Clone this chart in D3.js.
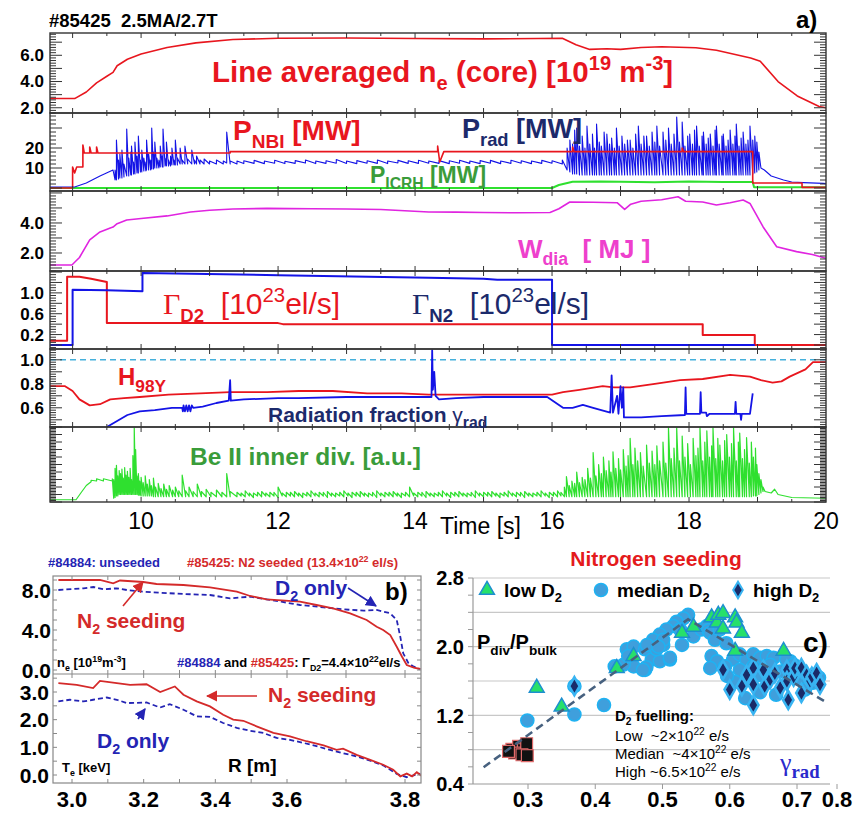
<!DOCTYPE html>
<html>
<head>
<meta charset="utf-8">
<style>
  body { margin: 0; background: #fff; }
  text { white-space: pre; }
</style>
</head>
<body>
<svg id="chart" width="856" height="814"></svg>
<script src="https://cdn.jsdelivr.net/npm/d3@7"></script>
<script>
// ---------- panel a: time traces of shot #85425 ----------
const timeTicks = [10, 12, 14, 16, 18, 20];
const neCore = [[8.67,2.7],[9.03,2.7],[9.2,3.2],[9.35,3.9],[9.5,4.4],[9.59,4.7],[9.65,5.2],[9.8,5.7],[10.0,6.1],[10.38,6.6],[10.8,6.95],[11.34,7.2],[12.0,7.3],[13.0,7.32],[14.0,7.28],[15.0,7.25],[15.8,7.28],[16.15,7.3],[16.35,6.8],[16.55,6.45],[16.8,6.5],[17.0,6.45],[17.3,6.6],[17.6,6.65],[18.1,6.58],[18.4,6.38],[18.9,5.8],[19.04,5.55],[19.3,4.0],[19.58,2.9],[19.9,2.1],[20,2.0]];
const pNbi = [[8.67,0],[9.0,0],[9.0,10.5],[9.03,7.5],[9.06,10.5],[9.15,10.5],[9.15,21.5],[9.17,17.5],[9.25,17.5],[9.25,20.5],[9.27,17.5],[9.35,17.5],[9.35,20.5],[9.37,17.5],[11.3,17.5],[11.3,18.2],[14.33,18.2],[14.33,21],[14.36,13],[14.42,18.2],[16.3,18.2],[16.3,20.5],[16.32,18.2],[17.9,18.2],[17.9,20],[17.92,18.2],[18.93,18.2],[18.93,2.5],[19.65,2.5],[19.65,0.3],[20,0.3]];
const pIcrh = [[8.67,0],[16.0,0],[16.1,1.5],[16.3,3.1],[16.7,3.3],[17.0,3.1],[17.5,2.9],[18.0,3.3],[18.5,3.0],[18.93,3.0],[18.95,0.4],[20,0.4]];
// [t, min, max] of the decimated P_rad signal
const pRad = [[8.67,0.5,0.5],[9.03,0.5,0.5],[9.2,2.5,2.5],[9.4,6,6],[9.59,9,9],
 [9.62,4,9],[9.64,4,24],[9.67,4.5,14],[9.69,5,17],[9.72,5,19],[9.75,5.5,12],[9.79,6,29.5],[9.82,6,15],[9.85,6.5,18],[9.86,6.5,21],[9.89,7,13],[9.91,7,23],[9.94,7.5,16],[9.96,7.5,26],[9.99,8,14],[10.01,8,19],[10.04,8.5,15],[10.07,8.5,13],[10.08,9,24],[10.11,9,17],[10.14,9,14],[10.155,9.5,30],[10.18,9.5,18],[10.2,10,23],[10.23,10,15],[10.26,10,14],[10.28,10.5,21],[10.31,10.5,16],[10.32,10.5,29.5],[10.35,11,15],[10.37,11,23],[10.4,11,14],[10.43,11,16],[10.45,11.5,20],[10.48,11.5,14],[10.5,11.5,24],[10.53,11.5,15],[10.57,12,20],[10.6,12,14],[10.64,12,21],[10.68,12,14.5],[10.74,12,19],[10.78,12,14],[10.81,12,16],[10.86,12,14],[10.92,12,14.5],[11.0,12,13.5],[11.1,12,14],[11.2,12,13.5],[11.25,12.5,28],[11.3,12,13.5],[11.4,12,13.5],
 [11.5,12.2,13.6],[11.65,12.3,13.8],[11.8,12.2,13.5],[11.95,12.4,13.9],[12.1,12.2,13.4],[12.25,12.3,13.7],[12.4,12.5,14],[12.55,12.2,13.5],[12.7,12.3,13.6],[12.85,12.4,14.2],[13.0,12.3,13.5],[13.15,12.2,13.7],[13.3,12.4,13.6],[13.45,12.3,14],[13.6,12.2,13.5],[13.75,12.5,13.8],[13.9,12.3,13.6],[14.05,12.3,13.9],[14.2,12.4,13.5],[14.35,12.3,13.7],[14.5,12.2,13.6],[14.65,12.4,13.9],[14.8,12.3,13.5],[14.95,12.2,13.7],[15.1,12.4,13.8],[15.25,12.2,13.5],[15.4,12.3,13.9],[15.55,12.4,13.6],[15.7,12.2,13.5],[15.85,12.3,13.8],[16.0,12.4,13.6],[16.15,12,14],
 [16.22,9,20],[16.26,8,24],[16.3,7,22],[16.33,7,29],[16.36,7,30],[16.4,6.5,21],[16.44,6.5,26],[16.48,6.5,20],[16.51,6.5,31],[16.55,6.5,22],[16.59,6.5,27],[16.62,6.5,20],[16.65,6.5,32],[16.69,6.5,23],[16.72,6.5,21],[16.76,6.5,28],[16.8,6.5,27],[16.84,6.5,22],[16.87,6.5,25],[16.91,6.5,20],[16.94,6.5,30],[16.98,6.5,21],[17.02,6.5,26],[17.06,6.5,22],[17.1,6.5,24],[17.14,6.5,24],[17.18,6.5,20],[17.22,6.5,27],[17.26,6.5,31],[17.3,6.5,22],[17.34,6.5,26],[17.38,6.5,26],[17.42,6.5,21],[17.46,6.5,28],[17.5,6.5,23],[17.53,6.5,31],[17.57,6.5,21],[17.62,6.5,28],[17.66,6.5,24],[17.7,6.5,30],[17.74,6.5,22],[17.78,6.5,27],[17.82,6.5,35.5],[17.86,6.5,23],[17.9,6.5,33],[17.94,6.5,21],[17.98,6.5,26],[18.01,6.5,27],[18.05,6.5,22],[18.08,6.5,29],[18.11,6.5,31],[18.15,6.5,21],[18.19,6.5,26],[18.21,6.5,28],[18.25,6.5,22],[18.28,6.5,25],[18.31,6.5,27],[18.35,6.5,21],[18.38,6.5,29],[18.4,6.5,31],[18.44,6.5,22],[18.48,6.5,26],[18.5,6.5,27],[18.54,6.5,21],[18.57,6.5,24],[18.6,6.5,29],[18.64,6.5,22],[18.67,6.5,26],[18.69,6.5,32],[18.73,6.5,21],[18.76,6.5,25],[18.79,6.5,28],[18.83,6.5,22],[18.86,6.5,24],[18.89,6.5,31],[18.93,7,24],[18.96,7.5,26],[18.99,8,23],[19.02,9,18],
 [19.05,10,10],[19.1,9,9],[19.2,6,6],[19.38,4,4],[19.5,3,3],[19.67,2.7,2.7],[19.96,2.3,2.3],[20,2.2,2.2]];
const wDia = [[8.67,1.2],[8.99,1.2],[9.1,1.7],[9.25,2.87],[9.4,3.4],[9.55,3.67],[9.59,3.73],[9.65,3.95],[9.79,4.2],[10.0,4.3],[10.38,4.47],[10.72,4.73],[11.0,4.85],[11.34,4.93],[11.84,4.97],[12.5,4.95],[13.0,4.93],[13.5,4.9],[14.2,4.73],[14.6,4.72],[15.0,4.7],[15.5,4.68],[15.97,4.7],[16.1,4.95],[16.26,5.4],[16.6,5.38],[16.95,5.35],[17.06,4.9],[17.15,5.25],[17.3,5.45],[17.6,5.55],[17.84,5.75],[17.95,5.45],[18.2,5.4],[18.4,5.2],[18.6,5.35],[18.79,5.53],[18.89,5.3],[19.08,3.75],[19.28,2.42],[19.57,2.09],[19.8,1.9],[20,1.65]];
const gammaD2 = [[8.67,0.08],[8.92,0.08],[8.92,1.31],[9.1,1.31],[9.27,1.27],[9.5,1.21],[9.5,0.42],[12.0,0.42],[12.07,0.4],[18.2,0.4],[18.2,0.19],[18.96,0.19],[18.96,0.0],[20,0.0]];
const gammaN2 = [[8.67,0],[9.0,0],[9.0,1.06],[9.5,1.05],[10.02,1.03],[10.02,1.38],[10.5,1.37],[12.0,1.34],[14.2,1.29],[15.0,1.27],[15.2,1.25],[16.0,1.25],[16.0,0],[18.96,0]];
const h98 = [[8.67,0.78],[8.89,0.78],[9.0,0.74],[9.1,0.67],[9.25,0.62],[9.4,0.63],[9.55,0.67],[9.75,0.68],[9.98,0.69],[10.4,0.71],[10.86,0.72],[11.3,0.73],[11.84,0.73],[12.3,0.74],[12.8,0.74],[13.3,0.72],[13.8,0.72],[14.2,0.71],[15.0,0.71],[15.5,0.71],[16.0,0.71],[16.16,0.73],[16.4,0.75],[16.74,0.78],[16.9,0.77],[17.14,0.77],[17.5,0.8],[17.87,0.83],[18.2,0.84],[18.6,0.875],[18.89,0.86],[19.05,0.83],[19.22,0.81],[19.35,0.82],[19.47,0.86],[19.7,0.92],[19.81,0.98],[20,0.98]];
const gammaRad = [[9.5,0.44],[9.65,0.49],[9.8,0.54],[9.98,0.57],[10.2,0.58],[10.45,0.6],[10.6,0.6],[10.61,0.57],[10.62,0.62],[10.64,0.57],[10.66,0.62],[10.68,0.57],[10.7,0.62],[10.72,0.57],[10.74,0.62],[10.76,0.6],[10.9,0.61],[11.1,0.64],[11.28,0.66],[11.3,0.83],[11.31,0.66],[11.5,0.67],[12.0,0.68],[12.3,0.68],[13.0,0.69],[13.5,0.69],[14.24,0.69],[14.25,1.08],[14.26,0.75],[14.28,0.9],[14.3,0.7],[14.35,0.67],[14.6,0.68],[15.0,0.69],[15.5,0.69],[15.93,0.69],[16.16,0.6],[16.3,0.6],[16.45,0.625],[16.6,0.6],[16.85,0.56],[16.87,0.87],[16.89,0.56],[16.95,0.7],[16.97,0.55],[17.0,0.78],[17.02,0.6],[17.04,0.77],[17.05,0.52],[17.3,0.52],[17.6,0.53],[17.94,0.54],[17.95,0.77],[17.96,0.55],[18.16,0.55],[18.17,0.73],[18.18,0.56],[18.25,0.56],[18.26,0.53],[18.3,0.55],[18.67,0.55],[18.68,0.65],[18.69,0.55],[18.75,0.55],[18.76,0.5],[18.77,0.55],[18.89,0.55],[18.93,0.72]];
// [t, min, max] of the decimated Be II signal (a.u.)
const beII = [[8.67,0.03,0.03],[9.05,0.03,0.03],[9.12,0.12,0.12],[9.2,0.22,0.22],[9.27,0.27,0.29],[9.35,0.28,0.31],[9.45,0.28,0.31],[9.58,0.28,0.31],
 [9.6,0.05,0.3],[9.62,0.06,0.45],[9.64,0.08,0.49],[9.66,0.08,0.35],[9.68,0.1,0.42],[9.7,0.1,0.38],[9.72,0.1,0.44],[9.74,0.1,0.32],[9.76,0.1,0.46],[9.78,0.1,0.36],[9.8,0.1,0.41],[9.82,0.1,0.33],[9.84,0.1,0.45],[9.86,0.1,0.3],[9.88,0.1,0.62],[9.9,0.1,0.99],[9.92,0.1,0.7],[9.94,0.1,0.35],[9.96,0.09,0.38],[9.98,0.09,0.28],[10.0,0.08,0.33],[10.03,0.08,0.26],[10.06,0.08,0.35],[10.09,0.08,0.24],[10.12,0.08,0.3],[10.15,0.08,0.22],[10.18,0.07,0.32],[10.21,0.07,0.2],[10.25,0.07,0.25],[10.29,0.07,0.18],[10.33,0.07,0.24],[10.37,0.07,0.17],[10.41,0.07,0.22],[10.46,0.07,0.16],[10.5,0.07,0.2],[10.55,0.07,0.15],[10.6,0.07,0.36],[10.65,0.07,0.15],[10.7,0.07,0.2],[10.76,0.07,0.14],[10.82,0.07,0.24],[10.88,0.07,0.14],[10.95,0.07,0.17],[11.02,0.07,0.13],[11.1,0.07,0.16],[11.18,0.07,0.13],[11.25,0.07,0.38],[11.3,0.07,0.14],
 [11.4,0.07,0.13],[11.46,0.08,0.12],[11.52,0.07,0.15],[11.58,0.08,0.12],[11.64,0.06,0.12],[11.7,0.08,0.13],[11.76,0.07,0.14],[11.82,0.08,0.12],[11.88,0.07,0.13],[11.94,0.08,0.13],[12.0,0.06,0.2],[12.06,0.08,0.12],[12.12,0.07,0.13],[12.18,0.08,0.13],[12.24,0.07,0.14],[12.3,0.08,0.12],[12.36,0.06,0.12],[12.42,0.08,0.13],[12.48,0.07,0.15],[12.54,0.08,0.12],[12.6,0.07,0.13],[12.66,0.08,0.13],[12.72,0.06,0.14],[12.78,0.08,0.12],[12.84,0.07,0.12],[12.9,0.08,0.13],[12.96,0.07,0.15],[13.02,0.08,0.12],[13.08,0.06,0.13],[13.14,0.08,0.13],[13.2,0.07,0.14],[13.26,0.08,0.12],[13.32,0.07,0.12],[13.38,0.08,0.13],[13.44,0.06,0.15],[13.5,0.08,0.12],[13.56,0.07,0.13],[13.62,0.08,0.13],[13.68,0.07,0.14],[13.74,0.08,0.12],[13.8,0.06,0.12],[13.86,0.08,0.13],[13.92,0.07,0.2],[13.98,0.08,0.12],[14.04,0.07,0.13],[14.1,0.08,0.13],[14.16,0.06,0.14],[14.22,0.08,0.12],[14.28,0.07,0.12],[14.34,0.08,0.13],[14.4,0.07,0.15],[14.46,0.08,0.12],[14.52,0.06,0.13],[14.58,0.08,0.13],[14.64,0.07,0.14],[14.7,0.08,0.12],[14.76,0.07,0.12],[14.82,0.08,0.13],[14.88,0.06,0.15],[14.94,0.08,0.12],[15.0,0.07,0.13],[15.06,0.08,0.13],[15.12,0.07,0.14],[15.18,0.08,0.12],[15.24,0.06,0.12],[15.3,0.08,0.13],[15.36,0.07,0.15],[15.42,0.08,0.12],[15.48,0.07,0.13],[15.54,0.08,0.13],[15.6,0.06,0.14],[15.66,0.08,0.12],[15.72,0.07,0.12],[15.78,0.08,0.13],[15.84,0.07,0.15],[15.9,0.08,0.12],[15.96,0.06,0.13],[16.02,0.08,0.13],[16.08,0.07,0.15],[16.13,0.08,0.13],
 [16.18,0.07,0.2],[16.21,0.07,0.34],[16.25,0.07,0.22],[16.29,0.07,0.28],[16.33,0.07,0.25],[16.36,0.07,0.4],[16.4,0.07,0.26],[16.44,0.07,0.33],[16.48,0.07,0.3],[16.52,0.07,0.45],[16.56,0.07,0.32],[16.6,0.07,0.66],[16.64,0.07,0.35],[16.68,0.07,0.5],[16.72,0.07,0.38],[16.75,0.07,0.6],[16.79,0.07,0.42],[16.83,0.07,0.55],[16.86,0.07,0.4],[16.89,0.07,0.67],[16.93,0.07,0.45],[16.97,0.07,0.58],[17.0,0.07,0.43],[17.04,0.07,0.7],[17.08,0.07,0.48],[17.11,0.07,0.62],[17.14,0.07,0.85],[17.18,0.07,0.5],[17.21,0.07,0.72],[17.25,0.07,0.55],[17.29,0.07,0.66],[17.33,0.07,0.48],[17.38,0.07,0.76],[17.42,0.07,0.52],[17.46,0.07,0.68],[17.5,0.07,0.5],[17.53,0.07,0.75],[17.57,0.07,0.55],[17.62,0.07,0.8],[17.66,0.07,0.52],[17.7,0.07,0.99],[17.74,0.07,0.58],[17.78,0.07,0.72],[17.82,0.07,0.99],[17.86,0.07,0.55],[17.9,0.07,0.88],[17.94,0.07,0.6],[17.98,0.07,0.78],[18.02,0.07,0.5],[18.06,0.07,0.85],[18.1,0.07,0.62],[18.13,0.07,0.72],[18.16,0.07,0.99],[18.2,0.07,0.55],[18.23,0.07,0.8],[18.26,0.07,0.95],[18.3,0.07,0.6],[18.33,0.07,0.75],[18.35,0.07,0.99],[18.39,0.07,0.58],[18.42,0.07,0.85],[18.45,0.07,0.76],[18.49,0.07,0.55],[18.52,0.07,0.82],[18.55,0.07,0.9],[18.59,0.07,0.6],[18.62,0.07,0.78],[18.65,0.07,0.99],[18.69,0.07,0.55],[18.72,0.07,0.8],[18.74,0.07,0.92],[18.78,0.07,0.58],[18.81,0.07,0.7],[18.84,0.07,0.86],[18.88,0.07,0.52],[18.91,0.07,0.8],[18.94,0.08,0.6],[18.97,0.08,0.72],[18.99,0.08,0.5],[19.02,0.1,0.38],[19.05,0.12,0.3],[19.08,0.14,0.2],
 [19.11,0.14,0.14],[19.2,0.12,0.12],[19.25,0.17,0.17],[19.3,0.1,0.1],[19.5,0.06,0.06],[20,0.05,0.05]];

// ---------- panel b: profiles vs R ----------
const rTicks = [3.0, 3.2, 3.4, 3.6, 3.8];
const neTicks = [0, 4, 8];
const teTicks = [0, 1, 2, 3];
const neSeeded = [[2.962,9.0],[3.032,9.0],[3.078,9.0],[3.115,8.67],[3.134,8.95],[3.199,8.8],[3.236,8.6],[3.311,8.5],[3.385,8.27],[3.46,7.83],[3.497,7.4],[3.543,7.07],[3.622,6.83],[3.65,6.5],[3.678,6.17],[3.707,5.67],[3.735,5.0],[3.752,4.33],[3.763,4.0],[3.775,3.5],[3.786,2.33],[3.795,1.33],[3.803,0.5],[3.815,0.23],[3.826,0.1]];
const neUnseeded = [[2.962,8.0],[3.032,8.17],[3.06,8.3],[3.088,8.07],[3.125,8.17],[3.153,8.0],[3.199,7.83],[3.246,7.73],[3.311,7.6],[3.385,7.5],[3.441,7.17],[3.497,7.33],[3.543,7.07],[3.584,6.83],[3.622,6.5],[3.662,6.27],[3.695,6.07],[3.73,5.93],[3.752,6.0],[3.775,5.67],[3.786,5.0],[3.792,3.33],[3.797,1.67],[3.806,0.67],[3.815,0.33],[3.826,0.07]];
const teSeeded = [[2.962,3.32],[3.013,3.26],[3.059,3.14],[3.078,3.4],[3.125,3.32],[3.162,3.26],[3.208,3.28],[3.246,3.0],[3.287,3.2],[3.311,2.9],[3.348,2.66],[3.385,2.48],[3.422,2.18],[3.45,2.0],[3.478,1.96],[3.515,1.76],[3.562,1.52],[3.605,1.4],[3.633,1.22],[3.662,1.07],[3.684,0.91],[3.695,0.95],[3.718,0.73],[3.741,0.55],[3.763,0.37],[3.78,0.19],[3.792,-0.05],[3.803,0.05],[3.812,-0.05],[3.82,0.1],[3.828,-0.03]];
const teUnseeded = [[2.962,2.66],[2.994,2.72],[3.032,2.66],[3.059,2.72],[3.097,2.8],[3.125,2.72],[3.153,2.6],[3.208,2.62],[3.246,2.44],[3.273,2.56],[3.311,2.36],[3.348,2.12],[3.385,2.1],[3.422,1.88],[3.46,1.7],[3.497,1.6],[3.534,1.52],[3.571,1.34],[3.605,1.27],[3.628,1.16],[3.65,1.04],[3.673,0.91],[3.695,0.79],[3.718,0.67],[3.741,0.52],[3.763,0.35],[3.786,0.04],[3.803,-0.08],[3.826,0.05]];

// ---------- panel c: P_div/P_bulk vs gamma_rad ----------
const gradTicks = [0.3, 0.4, 0.5, 0.6, 0.7, 0.8];
const ratioTicks = [0.4, 1.2, 2.0, 2.8];
const ratioGrid = [0.8, 1.2, 1.6, 2.0, 2.4, 2.8];
const medianD2 = [[0.299,1.14],[0.369,1.54],[0.369,1.21],[0.413,1.32],[0.447,1.97],[0.457,2.0],[0.457,1.77],[0.474,1.97],[0.474,1.73],[0.442,1.79],[0.484,1.85],[0.429,1.77],[0.449,1.89],[0.476,1.76],[0.496,1.83],[0.501,2.02],[0.511,1.85],[0.491,1.97],
 [0.538,2.37],[0.531,2.33],[0.521,2.29],[0.516,2.24],[0.506,2.2],[0.526,2.2],[0.496,2.14],[0.486,2.08],[0.501,2.08],[0.477,2.02],[0.494,2.0],[0.511,1.87],[0.529,2.02],[0.546,2.12],[0.558,2.2],[0.566,2.24],[0.568,2.19],[0.471,1.73],[0.571,2.16],[0.578,2.08],[0.585,2.2],[0.595,2.04],[0.573,1.89],[0.581,1.83],[0.605,1.85],[0.615,1.91],[0.625,1.85],[0.635,1.91],[0.645,1.87],[0.655,1.89],[0.665,1.87],[0.571,1.75],[0.593,1.77],[0.615,1.73],[0.635,1.77],
 [0.645,1.67],[0.66,1.79],[0.675,1.71],[0.69,1.83],[0.7075,1.62],[0.72,1.5],[0.74,1.58],[0.669,1.44],[0.645,1.47],[0.623,1.4],[0.608,1.59],[0.596,1.66],[0.684,1.85],[0.695,1.79],[0.755,1.64]];
const lowD2 = [[0.313,1.52],[0.35,1.3],[0.432,1.75],[0.457,1.89],[0.529,2.16],[0.546,2.23],[0.573,2.34],[0.581,2.28],[0.583,2.37],[0.59,2.39],[0.59,2.21],[0.608,2.34],[0.61,2.28],[0.618,2.16],[0.608,1.95],[0.68,1.95]];
const highD2 = [[0.369,1.54],[0.59,1.73],[0.6,1.5],[0.618,1.54],[0.625,1.67],[0.635,1.75],[0.635,1.56],[0.635,1.32],[0.65,1.73],[0.652,1.54],[0.66,1.62],[0.667,1.69],[0.675,1.52],[0.685,1.73],[0.685,1.6],[0.687,1.38],[0.695,1.65],[0.697,1.75],[0.711,1.75],[0.711,1.46],[0.724,1.67],[0.7325,1.6],[0.737,1.65],[0.749,1.69],[0.7575,1.56]];
const unseededRef = [[0.276,0.805],[0.286,0.84],[0.293,0.8],[0.298,0.87],[0.28,0.76],[0.291,0.74],[0.299,0.73],[0.271,0.78]];
const trend = [[0.234,0.595],[0.538,2.32],[0.77,1.36]];

// ---------- drawing ----------
const SANS = "'Liberation Sans', Arial, sans-serif";
const SERIF = "'Liberation Serif', 'Times New Roman', serif";
const RED = "#e8161e", NAVY = "#1c2a6b", BLUE = "#1414e6", GREEN = "#2fe02f",
      GREEN_T = "#3a9c3a", MAG = "#e024e0", MAG_T = "#ee40cc", CYAN = "#45b0dc";

const svg = d3.select("#chart").attr("font-family", SANS);
svg.append("rect").attr("width", 856).attr("height", 814).attr("fill", "#fff");
const defs = svg.append("defs");

function rich(g, x, y, parts, o) {
  const t = g.append("text").attr("x", x).attr("y", y)
    .attr("font-size", o.size).attr("font-weight", o.weight || "bold")
    .attr("fill", o.fill || "#000").attr("text-anchor", o.anchor || "start");
  let shift = 0;
  parts.forEach(p => {
    if (typeof p === "string") p = {s: p};
    const target = p.k === "sub" ? o.size * 0.28 : p.k === "sup" ? -o.size * 0.4 : 0;
    const ts = t.append("tspan").attr("dy", target - shift).text(p.s);
    shift = target;
    if (p.k) ts.attr("font-size", o.size * (p.scale || 0.68));
    if (p.fill) ts.attr("fill", p.fill);
    if (p.fam) ts.attr("font-family", p.fam);
    if (p.w) ts.attr("font-weight", p.w);
  });
  return t;
}

function arrowHead(id, color) {
  defs.append("marker").attr("id", id).attr("viewBox", "0 0 10 10")
    .attr("refX", 9).attr("refY", 5).attr("markerWidth", 7).attr("markerHeight", 7)
    .attr("orient", "auto").append("path").attr("d", "M0,0L10,5L0,10z").attr("fill", color);
}
arrowHead("arrRed", "#d42a2a");
arrowHead("arrBlue", "#2424b4");

// ----- panel a -----
const xT = d3.scaleLinear().domain([8.67, 20]).range([50, 826]);
const A = [
  {top: 33,  bot: 113, dom: [1.6, 7.7],     labels: [2, 4, 6],       fmt: ".1f", major: 1,   minor: 0.2},
  {top: 113, bot: 191, dom: [-1.5, 37.5],   labels: [10, 20],        fmt: "d",   major: 10,  minor: 2},
  {top: 191, bot: 271, dom: [0.8, 6.13],    labels: [2, 4],          fmt: ".1f", major: 1,   minor: 0.2},
  {top: 271, bot: 349, dom: [-0.077, 1.42], labels: [0.2, 0.6, 1.0], fmt: ".1f", major: 0.2, minor: 0.05},
  {top: 349, bot: 427, dom: [0.44, 1.09],   labels: [0.6, 0.8, 1.0], fmt: ".1f", major: 0.1, minor: 0.02},
  {top: 427, bot: 502, dom: [0, 1],         labels: [],              fmt: ".1f", major: 0.1, minor: 0.02}
];
A.forEach((p, i) => {
  p.y = d3.scaleLinear().domain(p.dom).range([p.bot, p.top]);
  defs.append("clipPath").attr("id", "clipA" + i).append("rect")
    .attr("x", 50).attr("y", p.top).attr("width", 776).attr("height", p.bot - p.top);
  p.g = svg.append("g").attr("clip-path", `url(#clipA${i})`);
});

function trace(p, data, color, w, dash) {
  p.g.append("path").datum(data)
    .attr("d", d3.line().x(d => xT(d[0])).y(d => p.y(d[1])))
    .attr("fill", "none").attr("stroke", color).attr("stroke-width", w)
    .attr("stroke-dasharray", dash || null).attr("stroke-linejoin", "round");
}
// min/max decimated signal drawn as a sawtooth through each sample window
function minmax(p, data, color, w) {
  trace(p, data.flatMap(d => [[d[0], d[1]], [d[0], d[2]]]), color, w);
}

trace(A[0], neCore, RED, 1.6);
trace(A[1], pIcrh, GREEN, 2);
minmax(A[1], pRad, BLUE, 1.1);
trace(A[1], pNbi, RED, 1.6);
trace(A[2], wDia, MAG, 1.6);
trace(A[3], gammaD2, RED, 2);
trace(A[3], gammaN2, BLUE, 2);
A[4].g.append("line").attr("x1", 50).attr("x2", 826)
  .attr("y1", A[4].y(1)).attr("y2", A[4].y(1))
  .attr("stroke", CYAN).attr("stroke-width", 1.6).attr("stroke-dasharray", "6,4");
trace(A[4], h98, RED, 1.8);
trace(A[4], gammaRad, BLUE, 1.8);
minmax(A[5], beII, GREEN, 1.2);

// frames and ticks
A.forEach(p => {
  const fr = svg.append("g").attr("stroke", "#333").attr("fill", "none");
  fr.append("rect").attr("x", 50).attr("y", p.top).attr("width", 776)
    .attr("height", p.bot - p.top).attr("stroke-width", 1.4);
  d3.range(9, 20, 0.5).forEach(t => {
    const big = t % 1 === 0 ? 5 : 3;
    fr.append("line").attr("x1", xT(t)).attr("x2", xT(t)).attr("y1", p.top).attr("y2", p.top + big);
    fr.append("line").attr("x1", xT(t)).attr("x2", xT(t)).attr("y1", p.bot).attr("y2", p.bot - big);
  });
  const ratio = Math.round(p.major / p.minor);
  const n0 = Math.ceil(p.dom[0] / p.minor - 1e-6), n1 = Math.floor(p.dom[1] / p.minor + 1e-6);
  for (let n = n0; n <= n1; n++) {
    const yy = p.y(n * p.minor);
    const len = n % ratio === 0 ? 12 : 6;
    fr.append("line").attr("x1", 50).attr("x2", 50 + len).attr("y1", yy).attr("y2", yy).attr("stroke-width", 1);
    fr.append("line").attr("x1", 826 - len).attr("x2", 826).attr("y1", yy).attr("y2", yy).attr("stroke-width", 1);
  }
  const f = d3.format(p.fmt);
  p.labels.forEach(v => {
    svg.append("text").attr("x", 44).attr("y", p.y(v)).attr("dy", "0.35em")
      .attr("text-anchor", "end").attr("font-size", 17).attr("font-weight", "bold").text(f(v));
  });
});
timeTicks.forEach(t => {
  svg.append("text").attr("x", xT(t)).attr("y", 529).attr("text-anchor", "middle")
    .attr("font-size", 23).text(t);
});
svg.append("text").attr("x", 440).attr("y", 534).attr("font-size", 23).text("Time [s]");

rich(svg, 49, 27, ["#85425  2.5MA/2.7T"], {size: 18.5});
rich(svg, 796, 28, ["a)"], {size: 24});
rich(svg, 212, 82, ["Line averaged n", {s: "e", k: "sub"}, " (core) [10", {s: "19", k: "sup"}, " m", {s: "-3", k: "sup"}, "]"], {size: 29.5, fill: RED});
rich(svg, 233, 140, ["P", {s: "NBI", k: "sub"}, " [MW]"], {size: 28, fill: RED});
rich(svg, 462, 138, ["P", {s: "rad", k: "sub"}, " [MW]"], {size: 27, fill: NAVY});
rich(svg, 370, 183, ["P", {s: "ICRH", k: "sub"}, " [MW]"], {size: 23, fill: GREEN_T});
rich(svg, 518, 258, ["W", {s: "dia", k: "sub"}, "  [ MJ ]"], {size: 26, fill: MAG_T});
rich(svg, 163, 314, [{s: "Γ", fam: SERIF}, {s: "D2", k: "sub", w: "bold", scale: 0.62}, "  [10", {s: "23", k: "sup"}, "el/s]"], {size: 30, weight: "normal", fill: RED});
rich(svg, 412, 314, [{s: "Γ", fam: SERIF}, {s: "N2", k: "sub", w: "bold", scale: 0.62}, "  [10", {s: "23", k: "sup"}, "el/s]"], {size: 30, weight: "normal", fill: NAVY});
rich(svg, 118, 385, ["H", {s: "98Y", k: "sub", scale: 0.72}], {size: 24, fill: RED});
rich(svg, 268, 422, ["Radiation fraction ", {s: "γ", w: "normal"}, {s: "rad", k: "sub", scale: 0.75}], {size: 21, fill: NAVY});
rich(svg, 190, 465, ["Be II inner div. [a.u.]"], {size: 24.5, fill: GREEN_T});

// ----- panel b -----
const RED_B = "#d42a2a", BLUE_B = "#2424b4";
const xR = d3.scaleLinear().domain([3.0, 3.6, 3.8]).range([72, 287, 405]);
const yNe = d3.scaleLinear().domain([0, 8]).range([670, 590]);
const yTe = d3.scaleLinear().domain([0, 3]).range([775, 692]);
const B = {left: 53, right: 421, top: 576, mid: 674, bot: 783};

neTicks.forEach(v => {
  svg.append("text").attr("x", 51).attr("y", yNe(v)).attr("dy", "0.36em").attr("text-anchor", "end")
    .attr("font-size", 21).attr("font-weight", "bold").text(d3.format(".1f")(v));
});
teTicks.forEach(v => {
  svg.append("text").attr("x", 49).attr("y", yTe(v)).attr("dy", "0.36em").attr("text-anchor", "end")
    .attr("font-size", 21).attr("font-weight", "bold").text(d3.format(".1f")(v));
});
rTicks.forEach(v => {
  svg.append("text").attr("x", xR(v)).attr("y", 807).attr("text-anchor", "middle")
    .attr("font-size", 22).attr("font-weight", "bold").text(d3.format(".1f")(v));
});
defs.append("clipPath").attr("id", "clipB1").append("rect")
  .attr("x", B.left).attr("y", B.top).attr("width", B.right - B.left).attr("height", B.mid - B.top);
defs.append("clipPath").attr("id", "clipB2").append("rect")
  .attr("x", B.left).attr("y", B.mid).attr("width", B.right - B.left).attr("height", B.bot - B.mid);
const gB1 = svg.append("g").attr("clip-path", "url(#clipB1)");
const gB2 = svg.append("g").attr("clip-path", "url(#clipB2)");
const lineNe = d3.line().x(d => xR(d[0])).y(d => yNe(d[1]));
const lineTe = d3.line().x(d => xR(d[0])).y(d => yTe(d[1]));
gB1.append("path").datum(neUnseeded).attr("d", lineNe).attr("fill", "none")
  .attr("stroke", BLUE_B).attr("stroke-width", 1.8).attr("stroke-dasharray", "5,3");
gB1.append("path").datum(neSeeded).attr("d", lineNe).attr("fill", "none")
  .attr("stroke", RED_B).attr("stroke-width", 1.8);
gB2.append("path").datum(teUnseeded).attr("d", lineTe).attr("fill", "none")
  .attr("stroke", BLUE_B).attr("stroke-width", 1.8).attr("stroke-dasharray", "5,3");
gB2.append("path").datum(teSeeded).attr("d", lineTe).attr("fill", "none")
  .attr("stroke", RED_B).attr("stroke-width", 1.8);

const fb = svg.append("g").attr("stroke", "#888").attr("fill", "none");
fb.append("rect").attr("x", B.left).attr("y", B.top).attr("width", B.right - B.left)
  .attr("height", B.bot - B.top).attr("stroke-width", 1.2);
fb.append("line").attr("x1", B.left).attr("x2", B.right).attr("y1", B.mid).attr("y2", B.mid).attr("stroke-width", 1.2);
d3.range(0, 9.01, 1).forEach(v => {
  fb.append("line").attr("x1", B.left).attr("x2", B.left + 4).attr("y1", yNe(v)).attr("y2", yNe(v));
  fb.append("line").attr("x1", B.right - 4).attr("x2", B.right).attr("y1", yNe(v)).attr("y2", yNe(v));
});
d3.range(0, 3.51, 0.5).forEach(v => {
  fb.append("line").attr("x1", B.left).attr("x2", B.left + 4).attr("y1", yTe(v)).attr("y2", yTe(v));
  fb.append("line").attr("x1", B.right - 4).attr("x2", B.right).attr("y1", yTe(v)).attr("y2", yTe(v));
});
d3.range(3.0, 3.81, 0.1).forEach(v => {
  [B.top, B.mid].forEach(y0 => fb.append("line").attr("x1", xR(v)).attr("x2", xR(v)).attr("y1", y0).attr("y2", y0 + 4));
  [B.mid, B.bot].forEach(y0 => fb.append("line").attr("x1", xR(v)).attr("x2", xR(v)).attr("y1", y0).attr("y2", y0 - 4));
});

rich(svg, 48, 567, ["#84884: unseeded"], {size: 13, fill: BLUE_B});
rich(svg, 187, 567, ["#85425: N2 seeded (13.4×10", {s: "22", k: "sup"}, " el/s)"], {size: 13, fill: RED_B});
rich(svg, 77, 628, ["N", {s: "2", k: "sub"}, " seeding"], {size: 21, fill: RED_B});
rich(svg, 275, 595, ["D", {s: "2", k: "sub"}, " only"], {size: 21, fill: BLUE_B});
rich(svg, 385, 600, ["b)"], {size: 24});
rich(svg, 57, 667, ["n", {s: "e", k: "sub"}, " [10", {s: "19", k: "sup"}, "m", {s: "-3", k: "sup"}, "]"], {size: 13});
rich(svg, 177, 667, [{s: "#84884", fill: BLUE_B}, " and ", {s: "#85425", fill: RED_B}, ": Γ", {s: "D2", k: "sub"}, "=4.4×10", {s: "22", k: "sup"}, "el/s"], {size: 13});
rich(svg, 268, 702, ["N", {s: "2", k: "sub"}, " seeding"], {size: 21, fill: RED_B});
rich(svg, 97, 748, ["D", {s: "2", k: "sub"}, " only"], {size: 21, fill: BLUE_B});
rich(svg, 62, 772, ["T", {s: "e", k: "sub"}, " [keV]"], {size: 13});
rich(svg, 228, 772, ["R [m]"], {size: 19});
const arrows = [[123, 606, 143, 582, "arrRed", RED_B], [348, 588, 376, 606, "arrBlue", BLUE_B],
                [257, 696, 207, 696, "arrRed", RED_B], [138, 719, 145, 709, "arrBlue", BLUE_B]];
arrows.forEach(a => svg.append("line").attr("x1", a[0]).attr("y1", a[1]).attr("x2", a[2]).attr("y2", a[3])
  .attr("stroke", a[5]).attr("stroke-width", 1.6).attr("marker-end", `url(#${a[4]})`));

// ----- panel c -----
const xG = d3.scaleLinear().domain([0.3, 0.7, 0.8]).range([528, 797, 837]);
const yP = d3.scaleLinear().domain([0.4, 2.8]).range([784, 578]);
const C = {left: 473, right: 830};
const gc = svg.append("g");
ratioGrid.forEach(v => gc.append("line").attr("x1", C.left).attr("x2", C.right)
  .attr("y1", yP(v)).attr("y2", yP(v)).attr("stroke", "#c8c8c8").attr("stroke-width", 1.2));
gc.append("line").attr("x1", C.left).attr("x2", C.left).attr("y1", yP(2.8)).attr("y2", yP(0.4))
  .attr("stroke", "#9a9a9a").attr("stroke-width", 1.2);
gc.append("line").attr("x1", C.left).attr("x2", C.right).attr("y1", yP(0.4)).attr("y2", yP(0.4))
  .attr("stroke", "#9a9a9a").attr("stroke-width", 1.2);
d3.range(0.4, 2.81, 0.2).forEach(v => gc.append("line").attr("x1", C.left - 5).attr("x2", C.left)
  .attr("y1", yP(v)).attr("y2", yP(v)).attr("stroke", "#9a9a9a"));
gradTicks.forEach(v => gc.append("line").attr("x1", xG(v)).attr("x2", xG(v))
  .attr("y1", yP(0.4)).attr("y2", yP(0.4) + 5).attr("stroke", "#9a9a9a"));
ratioTicks.forEach(v => gc.append("text").attr("x", 464).attr("y", yP(v)).attr("dy", "0.36em")
  .attr("text-anchor", "end").attr("font-size", 20).attr("font-weight", "bold").text(d3.format(".1f")(v)));
gradTicks.forEach(v => gc.append("text").attr("x", xG(v)).attr("y", 807).attr("text-anchor", "middle")
  .attr("font-size", 22).attr("font-weight", "bold").text(d3.format(".1f")(v)));

const sym = (type, size) => d3.symbol().type(type).size(size)();
function markers(data, type, size, fill, stroke, sw) {
  gc.selectAll(null).data(data).join("path")
    .attr("transform", d => `translate(${xG(d[0])},${yP(d[1])})`)
    .attr("d", sym(type, size)).attr("fill", fill).attr("stroke", stroke).attr("stroke-width", sw);
}
markers(medianD2, d3.symbolCircle, 135, "#3f9fdc", "#1fb2f2", 1.5);
markers(highD2, d3.symbolDiamond, 95, "#1a2b68", "#38b4f2", 2.5);
markers(lowD2, d3.symbolTriangle, 95, "#27e06a", "#1d8fcf", 1.5);
markers(unseededRef, d3.symbolSquare, 140, "#111", "#e06a6a", 1.2);
gc.append("path").datum(trend).attr("d", d3.line().x(d => xG(d[0])).y(d => yP(d[1])))
  .attr("fill", "none").attr("stroke", "#47617f").attr("stroke-width", 2.6).attr("stroke-dasharray", "8,5");

// legend
gc.append("path").attr("transform", "translate(487,590)").attr("d", sym(d3.symbolTriangle, 95))
  .attr("fill", "#27e06a").attr("stroke", "#1d8fcf").attr("stroke-width", 1.5);
rich(gc, 504, 597, ["low D", {s: "2", k: "sub"}], {size: 19});
gc.append("path").attr("transform", "translate(601,590)").attr("d", sym(d3.symbolCircle, 135))
  .attr("fill", "#3f9fdc").attr("stroke", "#1fb2f2").attr("stroke-width", 1.5);
rich(gc, 617, 597, ["median D", {s: "2", k: "sub"}], {size: 19});
gc.append("path").attr("transform", "translate(738,590)").attr("d", sym(d3.symbolDiamond, 80))
  .attr("fill", "#1a2b68").attr("stroke", "#38b4f2").attr("stroke-width", 2);
rich(gc, 753, 597, ["high D", {s: "2", k: "sub"}], {size: 19});

rich(svg, 656, 566, ["Nitrogen seeding"], {size: 21, fill: "#e41a1c", anchor: "middle"});
rich(svg, 477, 649, ["P", {s: "div", k: "sub"}, "/P", {s: "bulk", k: "sub"}], {size: 20});
rich(svg, 803, 652, ["c)"], {size: 28});
rich(svg, 615, 721, ["D", {s: "2", k: "sub"}, " fuelling:"], {size: 15});
rich(svg, 615, 741, ["Low  ~2×10", {s: "22", k: "sup"}, " e/s"], {size: 15, weight: "normal"});
rich(svg, 615, 759, ["Median  ~4×10", {s: "22", k: "sup"}, " e/s"], {size: 15, weight: "normal"});
rich(svg, 615, 777, ["High ~6.5×10", {s: "22", k: "sup"}, " e/s"], {size: 15, weight: "normal"});
rich(svg, 780, 771, [{s: "γ", w: "normal"}, {s: "rad", k: "sub", scale: 0.72}], {size: 26, fill: "#2a2acc"}).attr("font-family", SERIF);
</script>
</body>
</html>
